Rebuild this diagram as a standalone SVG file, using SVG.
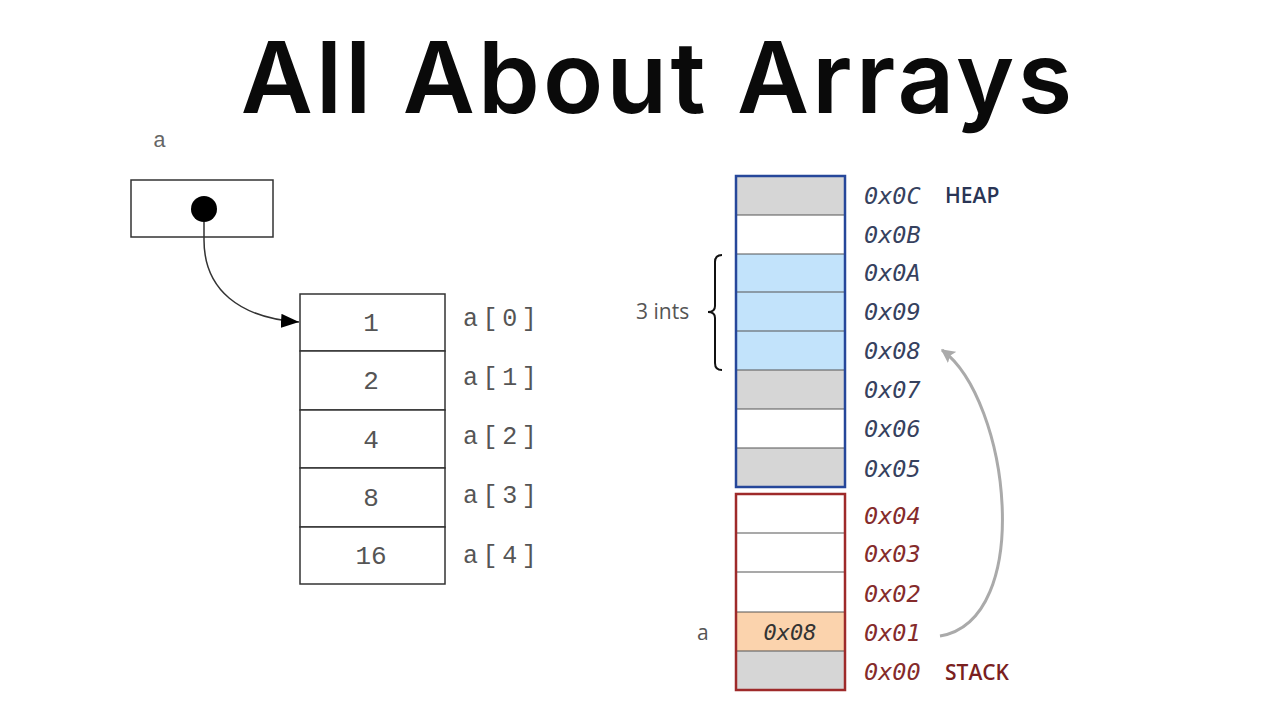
<svg xmlns="http://www.w3.org/2000/svg" width="1280" height="720" viewBox="0 0 1280 720">
<style>
.title{font-family:Inter,"Liberation Sans",sans-serif;font-weight:600;font-size:99px;fill:#0a0a0a;letter-spacing:3.3px}
.cell{fill:#fff;stroke:#333;stroke-width:1.5}
.num{font-family:"Liberation Mono",monospace;font-size:26px;fill:#555;text-anchor:middle}
.idx{font-family:"Liberation Mono",monospace;font-size:25px;fill:#555;letter-spacing:4.6px}
.addrH{font-family:"DejaVu Sans Mono",monospace;font-style:italic;font-size:23.5px;fill:#36415e}
.addrS{font-family:"DejaVu Sans Mono",monospace;font-style:italic;font-size:23.5px;fill:#852b2b}
.sep{stroke:#555;stroke-width:1.2}
.lbl{font-family:"Open Sans","Noto Sans",sans-serif;font-size:21px;fill:#555}
</style>
<defs>
<marker id="ah" viewBox="0 0 10 10" refX="10" refY="5" markerWidth="18" markerHeight="14" orient="auto" markerUnits="userSpaceOnUse" preserveAspectRatio="none"><path d="M0,0 L10,5 L0,10 z" fill="#000"/></marker>
<marker id="ag" viewBox="0 0 10 10" refX="9" refY="5" markerWidth="14" markerHeight="14" orient="auto" markerUnits="userSpaceOnUse"><path d="M0,0 L10,5 L0,10 L2,5 z" fill="#aaa"/></marker>
</defs>
<rect width="1280" height="720" fill="#fff"/>
<text class="title" x="658" y="113" text-anchor="middle">All About Arrays</text>

<g id="pointer">
<text x="153" y="147" font-family="Liberation Mono,monospace" font-size="22" fill="#666">a</text>
<rect x="131" y="180" width="142" height="57" fill="#fff" stroke="#333" stroke-width="1.5"/>
<circle cx="204" cy="209" r="13" fill="#000"/>
</g>

<g id="array">
<rect class="cell" x="300" y="294" width="145" height="57"/>
<rect class="cell" x="300" y="351" width="145" height="59"/>
<rect class="cell" x="300" y="410" width="145" height="58"/>
<rect class="cell" x="300" y="468" width="145" height="59"/>
<rect class="cell" x="300" y="527" width="145" height="57"/>
<text class="num" x="371" y="331">1</text>
<text class="num" x="371" y="389">2</text>
<text class="num" x="371" y="448">4</text>
<text class="num" x="371" y="506">8</text>
<text class="num" x="371" y="564">16</text>
<text class="idx" x="463" y="326">a[0]</text>
<text class="idx" x="463" y="385">a[1]</text>
<text class="idx" x="463" y="444">a[2]</text>
<text class="idx" x="463" y="503">a[3]</text>
<text class="idx" x="463" y="563">a[4]</text>
</g>

<g id="heap">
<rect x="736" y="176" width="109" height="39" fill="#d6d6d6"/>
<rect x="736" y="215" width="109" height="39" fill="#fff"/>
<rect x="736" y="254" width="109" height="116" fill="#c2e3fb"/>
<rect x="736" y="370" width="109" height="39" fill="#d6d6d6"/>
<rect x="736" y="409" width="109" height="39" fill="#fff"/>
<rect x="736" y="448" width="109" height="39" fill="#d6d6d6"/>
<line class="sep" x1="736" y1="215" x2="845" y2="215"/>
<line class="sep" x1="736" y1="254" x2="845" y2="254"/>
<line class="sep" x1="736" y1="292" x2="845" y2="292"/>
<line class="sep" x1="736" y1="331" x2="845" y2="331"/>
<line class="sep" x1="736" y1="370" x2="845" y2="370"/>
<line class="sep" x1="736" y1="409" x2="845" y2="409"/>
<line class="sep" x1="736" y1="448" x2="845" y2="448"/>
<rect x="736" y="176" width="109" height="311" fill="none" stroke="#26479a" stroke-width="2.5"/>
<text class="addrH" x="864" y="204">0x0C</text>
<text class="addrH" x="864" y="243">0x0B</text>
<text class="addrH" x="864" y="281">0x0A</text>
<text class="addrH" x="864" y="320">0x09</text>
<text class="addrH" x="864" y="359">0x08</text>
<text class="addrH" x="864" y="398">0x07</text>
<text class="addrH" x="864" y="437">0x06</text>
<text class="addrH" x="864" y="477">0x05</text>
<text x="945" y="203" font-family="Open Sans,Noto Sans,sans-serif" font-weight="600" font-size="21" fill="#2a3555">HEAP</text>
</g>

<g id="stack">
<rect x="736" y="494" width="109" height="118" fill="#fff"/>
<rect x="736" y="612" width="109" height="39" fill="#fbd3ad"/>
<rect x="736" y="651" width="109" height="39" fill="#d6d6d6"/>
<line class="sep" x1="736" y1="533" x2="845" y2="533"/>
<line class="sep" x1="736" y1="572" x2="845" y2="572"/>
<line class="sep" x1="736" y1="612" x2="845" y2="612"/>
<line class="sep" x1="736" y1="651" x2="845" y2="651"/>
<rect x="736" y="494" width="109" height="196" fill="none" stroke="#9e2a2a" stroke-width="2.5"/>
<text x="790" y="640" font-family="DejaVu Sans Mono,monospace" font-style="italic" font-size="22" fill="#333" text-anchor="middle">0x08</text>
<text class="addrS" x="864" y="524">0x04</text>
<text class="addrS" x="864" y="562">0x03</text>
<text class="addrS" x="864" y="602">0x02</text>
<text class="addrS" x="864" y="641">0x01</text>
<text class="addrS" x="864" y="680">0x00</text>
<text x="945" y="680" font-family="Open Sans,Noto Sans,sans-serif" font-weight="600" font-size="21" fill="#7a1f1f">STACK</text>
<text class="lbl" x="697" y="640">a</text>
</g>

<g id="brace">
<path d="M722,255 Q715,255 715,262 L715,306 Q715,312 708,312 Q715,312 715,318 L715,363 Q715,370 722,370" fill="none" stroke="#111" stroke-width="2"/>
<text class="lbl" x="636" y="319">3 ints</text>
</g>

<g id="connectors">
<path d="M204,222 L204,240 C204,290 240,318 299,322" fill="none" stroke="#333" stroke-width="1.5" marker-end="url(#ah)"/>
<path d="M940,636 C1035,620 1010,400 942,350" fill="none" stroke="#aaa" stroke-width="3" marker-end="url(#ag)"/>
</g>
</svg>
